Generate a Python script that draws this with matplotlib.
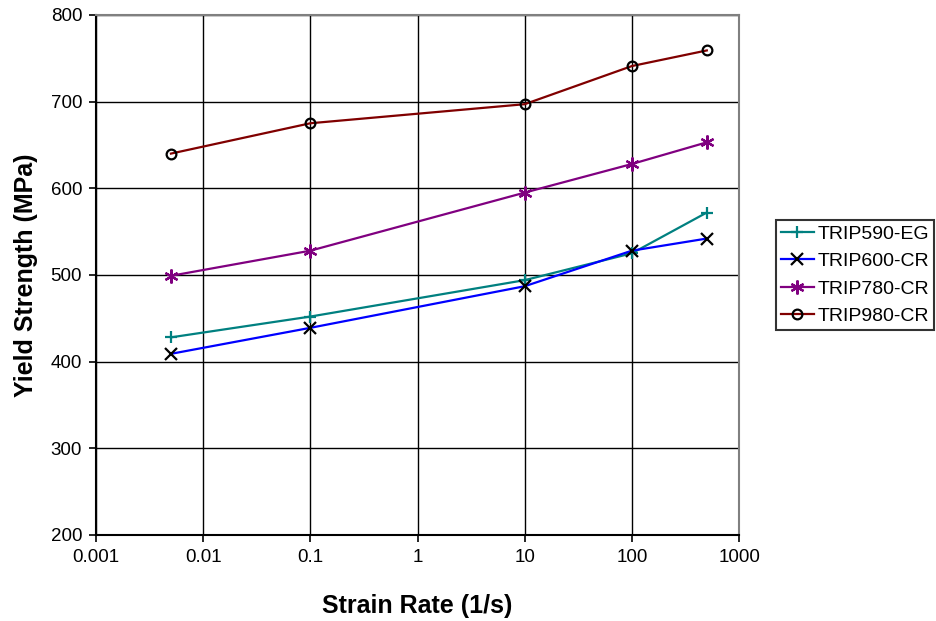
import matplotlib
matplotlib.use("Agg")
import matplotlib.pyplot as plt
from matplotlib.ticker import FixedLocator, FixedFormatter, NullLocator

plt.rcParams['font.family'] = ['Liberation Sans', 'DejaVu Sans']

# Strain rates (1/s) and yield strengths (MPa)
strain_rate = [0.005, 0.1, 10, 100, 500]
trip590_eg = [428, 452, 494, 525, 572]
trip600_cr = [409, 439, 487, 528, 542]
trip780_cr = [499, 528, 595, 628, 653]
trip980_cr = [640, 675, 697, 741, 759]

x_ticks = [0.001, 0.01, 0.1, 1, 10, 100, 1000]
x_tick_labels = ['0.001', '0.01', '0.1', '1', '10', '100', '1000']
y_ticks = [200, 300, 400, 500, 600, 700, 800]

fig = plt.figure(figsize=(9.36, 6.21), dpi=100)
ax = fig.add_axes([0.1026, 0.1385, 0.687, 0.8375])

ax.plot(strain_rate, trip590_eg, color='#008080', lw=1.6, marker='+',
        ms=8, mew=1.6, mec='#008080', label='TRIP590-EG')
ax.plot(strain_rate, trip600_cr, color='#0000FF', lw=1.6, marker='x',
        ms=9, mew=1.6, mec='black', label='TRIP600-CR')
ax.plot(strain_rate, trip780_cr, color='#800080', lw=1.6, marker=(6, 2, 0),
        ms=10, mew=1.6, mec='#800080', label='TRIP780-CR')
ax.plot(strain_rate, trip980_cr, color='#800000', lw=1.6, marker='o',
        ms=7, mew=1.6, mec='black', mfc='none', label='TRIP980-CR')

ax.set_xscale('log')
ax.set_xlim(0.001, 1000)
ax.set_ylim(200, 800)
ax.xaxis.set_major_locator(FixedLocator(x_ticks))
ax.xaxis.set_major_formatter(FixedFormatter(x_tick_labels))
ax.xaxis.set_minor_locator(NullLocator())
ax.set_yticks(y_ticks)

ax.grid(True, color='black', lw=1.0)
ax.set_axisbelow(True)
for side in ('left', 'bottom'):
    ax.spines[side].set_color('black')
    ax.spines[side].set_linewidth(1.5)
for side in ('top', 'right'):
    ax.spines[side].set_color('#808080')
    ax.spines[side].set_linewidth(1.5)

ax.tick_params(axis='both', direction='out', length=5, width=1.2,
               labelsize=13.5, colors='black', pad=5)

ax.set_xlabel('Strain Rate (1/s)', fontsize=18, fontweight='bold', labelpad=20)
ax.set_ylabel('Yield Strength (MPa)', fontsize=18, fontweight='bold', labelpad=9)

leg = fig.legend(loc='center left', bbox_to_anchor=(0.829, 0.557),
                 fontsize=14, frameon=True, fancybox=False,
                 edgecolor='black', handlelength=1.7, handletextpad=0.2,
                 borderpad=0.25, labelspacing=0.5, borderaxespad=0)
leg.get_frame().set_linewidth(1.5)

fig.savefig('out.png', dpi=100)
